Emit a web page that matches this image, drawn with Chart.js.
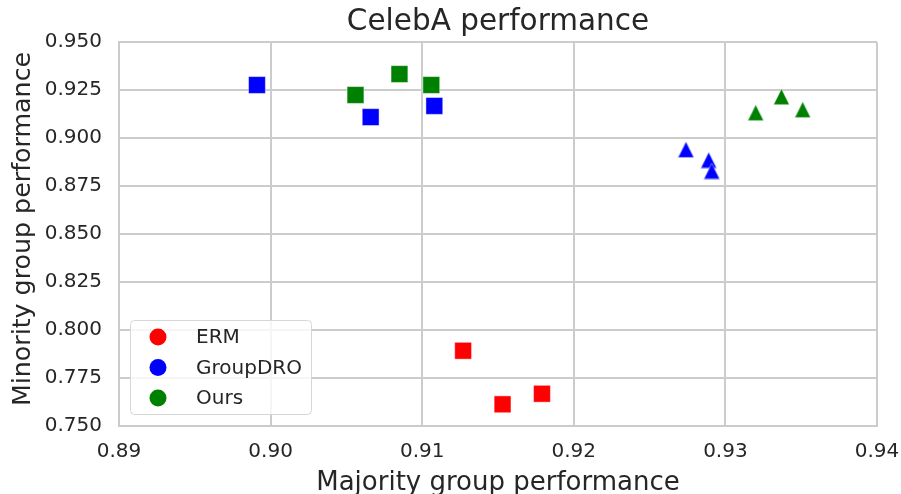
<!DOCTYPE html>
<html>
<head>
<meta charset="utf-8">
<script src="https://cdn.jsdelivr.net/npm/chart.js@4/dist/chart.umd.min.js"></script>
<style>
  html, body { margin: 0; padding: 0; background: #ffffff; }
  #wrap { width: 901px; height: 494px; }
</style>
</head>
<body>
<div id="wrap"><canvas id="c" width="901" height="494"></canvas></div>
<script>
// ---- data ----
const methods = ['ERM', 'GroupDRO', 'Ours'];
const methodColors = ['#ff0000', '#0000ff', '#008000'];

const ermSquareX = [0.9127, 0.9153, 0.9179];
const ermSquareY = [0.7892, 0.7613, 0.7668];

const groupDroSquareX = [0.8991, 0.9066, 0.9108];
const groupDroSquareY = [0.9276, 0.9109, 0.9167];
const groupDroTriangleX = [0.9274, 0.9289, 0.9291];
const groupDroTriangleY = [0.8940, 0.8885, 0.8828];

const oursSquareX = [0.9056, 0.9085, 0.9106];
const oursSquareY = [0.9224, 0.9333, 0.9276];
const oursTriangleX = [0.9320, 0.9337, 0.9351];
const oursTriangleY = [0.9132, 0.9215, 0.9148];

const xTickMin = 0.89, xTickMax = 0.94, xTickStep = 0.01;
const yTickMin = 0.75, yTickMax = 0.95, yTickStep = 0.025;

const titleText = 'CelebA performance';
const xTitle = 'Majority group performance';
const yTitle = 'Minority group performance';

// ---- helpers ----
const FONT = "'DejaVu Sans', 'Liberation Sans', sans-serif";
const TEXT = '#262626';
const GRID = '#cccccc';

function triangleImage(color) {
  const s = 17;
  const c = document.createElement('canvas');
  c.width = s; c.height = s;
  const g = c.getContext('2d');
  g.beginPath();
  g.moveTo(s / 2, 0.6);
  g.lineTo(s - 0.6, s - 0.6);
  g.lineTo(0.6, s - 0.6);
  g.closePath();
  g.fillStyle = color;
  g.fill();
  g.strokeStyle = 'rgba(255,255,255,0.55)';
  g.lineWidth = 0.8;
  g.stroke();
  return c;
}

function zipPoints(xs, ys) { return xs.map((x, i) => ({ x: x, y: ys[i] })); }

function makeDataset(idx, sqX, sqY, trX, trY) {
  const sq = zipPoints(sqX, sqY);
  const tr = zipPoints(trX, trY);
  const tri = triangleImage(methodColors[idx]);
  return {
    label: methods[idx],
    data: sq.concat(tr),
    pointStyle: sq.map(() => 'rect').concat(tr.map(() => tri)),
    pointRadius: 11.9,
    pointHoverRadius: 11.9,
    backgroundColor: methodColors[idx],
    borderColor: 'rgba(255,255,255,0.55)',
    borderWidth: 0.8,
    showLine: false
  };
}

const datasets = [
  makeDataset(0, ermSquareX, ermSquareY, [], []),
  makeDataset(1, groupDroSquareX, groupDroSquareY, groupDroTriangleX, groupDroTriangleY),
  makeDataset(2, oursSquareX, oursSquareY, oursTriangleX, oursTriangleY)
];

const insideLegend = {
  id: 'insideLegend',
  afterDatasetsDraw(chart) {
    const ctx = chart.ctx;
    const left = 130.5, top = 320.5, w = 181, h = 94, r = 4;
    ctx.save();
    ctx.beginPath();
    ctx.roundRect(left, top, w, h, r);
    ctx.fillStyle = 'rgba(255,255,255,0.8)';
    ctx.fill();
    ctx.strokeStyle = '#d6d6d6';
    ctx.lineWidth = 1;
    ctx.stroke();
    const rows = [337, 367.5, 398];
    chart.data.datasets.forEach((ds, i) => {
      ctx.beginPath();
      ctx.arc(158, rows[i], 8.5, 0, Math.PI * 2);
      ctx.fillStyle = ds.backgroundColor;
      ctx.fill();
      ctx.fillStyle = TEXT;
      ctx.font = "20px " + FONT;
      ctx.textAlign = 'left';
      ctx.textBaseline = 'middle';
      ctx.fillText(ds.label, 196, rows[i] + 1);
    });
    ctx.restore();
  }
};

// y-axis title drawn like matplotlib (centred slightly above the axes middle)
const yAxisTitle = {
  id: 'yAxisTitle',
  afterDraw(chart) {
    const ctx = chart.ctx;
    const area = chart.chartArea;
    ctx.save();
    ctx.translate(23.5, (area.top + area.bottom) / 2 - 5);
    ctx.rotate(-Math.PI / 2);
    ctx.fillStyle = TEXT;
    ctx.font = "25.3px " + FONT;
    ctx.textAlign = 'center';
    ctx.textBaseline = 'middle';
    ctx.fillText(chart.options.scales.y.title.text, 0, 0);
    ctx.restore();
  }
};

new Chart(document.getElementById('c'), {
  type: 'scatter',
  data: { datasets: datasets },
  plugins: [insideLegend, yAxisTitle],
  options: {
    responsive: false,
    animation: false,
    layout: { padding: { top: 0, right: 24, left: 0, bottom: 0 } },
    plugins: {
      legend: { display: false },
      tooltip: { enabled: false },
      title: {
        display: true,
        fullSize: false,
        text: titleText,
        color: TEXT,
        font: { family: FONT, size: 29.5, weight: 'normal', lineHeight: 1.2 },
        padding: { top: 5, bottom: 1.6 }
      }
    },
    scales: {
      x: {
        type: 'linear',
        min: xTickMin,
        max: xTickMax,
        afterFit(scale) { scale.height = 68; scale.paddingRight = 0; scale.paddingLeft = 0; },
        ticks: {
          stepSize: xTickStep,
          color: TEXT,
          padding: 14,
          font: { family: FONT, size: 20 },
          callback: v => Number(v).toFixed(2),
          maxRotation: 0,
          autoSkip: false
        },
        grid: { color: GRID, lineWidth: 2, drawTicks: false },
        border: { display: true, color: GRID, width: 2 },
        title: {
          display: true,
          text: xTitle,
          color: TEXT,
          font: { family: FONT, size: 26, lineHeight: 1 },
          padding: { top: 0, bottom: -2 }
        }
      },
      y: {
        type: 'linear',
        min: yTickMin,
        max: yTickMax,
        afterFit(scale) { scale.width = 119; },
        ticks: {
          stepSize: yTickStep,
          color: TEXT,
          padding: 17,
          font: { family: FONT, size: 20 },
          callback: v => Number(v).toFixed(3),
          autoSkip: false
        },
        grid: { color: GRID, lineWidth: 2, drawTicks: false },
        border: { display: true, color: GRID, width: 2 },
        title: {
          display: false,
          text: yTitle
        }
      }
    }
  }
});
</script>
</body>
</html>
